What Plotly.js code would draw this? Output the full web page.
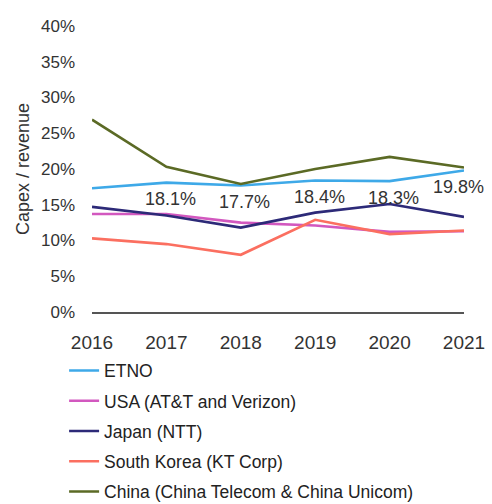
<!DOCTYPE html>
<html>
<head>
<meta charset="utf-8">
<script src="https://cdn.plot.ly/plotly-3.0.1.min.js"></script>
<style>html,body{margin:0;padding:0;background:#fff;}#chart{width:492px;height:504px;}</style>
</head>
<body>
<div id="chart"></div>
<script>
const years = [2016, 2017, 2018, 2019, 2020, 2021];
const etno = [17.3, 18.1, 17.7, 18.4, 18.3, 19.8];
const usa = [13.7, 13.7, 12.5, 12.1, 11.2, 11.3];
const japan = [14.7, 13.5, 11.8, 13.9, 15.1, 13.3];
const southKorea = [10.3, 9.5, 8.0, 12.9, 10.9, 11.4];
const china = [26.9, 20.3, 17.9, 20.0, 21.7, 20.2];
const seriesNames = ['ETNO', 'USA (AT&T and Verizon)', 'Japan (NTT)', 'South Korea (KT Corp)', 'China (China Telecom & China Unicom)'];
const labelYears = [2017, 2018, 2019, 2020, 2021];
const yTicks = [0, 5, 10, 15, 20, 25, 30, 35, 40];

const colors = ['#3ea9e8', '#d258bf', '#2d2a78', '#fb6f60', '#5b6a25'];
const seriesData = [etno, usa, japan, southKorea, china];

const traces = seriesData.map((vals, i) => ({
  x: years, y: vals, type: 'scatter', mode: 'lines', name: seriesNames[i],
  legendgroup: 'g' + i,
  line: {color: colors[i], width: 2.6}
}));

const annotations = labelYears.map((yr) => {
  const idx = years.indexOf(yr);
  return {
    x: yr, y: etno[idx], xref: 'x', yref: 'y',
    text: etno[idx].toFixed(1) + '%', showarrow: false,
    yshift: -16.5, xshift: yr === 2021 ? -6 : 4,
    font: {family: 'Liberation Sans, Arial, sans-serif', size: 18, color: '#333'}
  };
});

const layout = {
  width: 492, height: 504,
  margin: {l: 92, r: 28, t: 26, b: 192, autoexpand: false},
  paper_bgcolor: '#fff', plot_bgcolor: '#fff',
  font: {family: 'Liberation Sans, Arial, sans-serif', color: '#333'},
  showlegend: true,
  legend: {
    x: -0.075, xanchor: 'left', y: -0.142, yanchor: 'top',
    font: {size: 17.5, color: '#222'}, tracegroupgap: 4.5,
    bgcolor: 'rgba(0,0,0,0)', traceorder: 'grouped'
  },
  xaxis: {
    range: [2016, 2021], tickvals: years, ticktext: years.map(String),
    showgrid: false, zeroline: false, showline: true, linecolor: '#555', linewidth: 2,
    ticks: '', tickfont: {size: 19, color: '#333'}, ticklabelstandoff: 12,
    fixedrange: true
  },
  yaxis: {
    range: [0, 40], tickvals: yTicks, ticktext: yTicks.map(v => v + '%'),
    showgrid: false, zeroline: false, showline: false, ticks: '',
    tickfont: {size: 17, color: '#333'}, ticklabelstandoff: 16,
    title: {text: 'Capex / revenue', font: {size: 18, color: '#333'}, standoff: 6},
    fixedrange: true
  },
  annotations: annotations
};

Plotly.newPlot('chart', traces, layout, {displayModeBar: false, staticPlot: true});
</script>
</body>
</html>
